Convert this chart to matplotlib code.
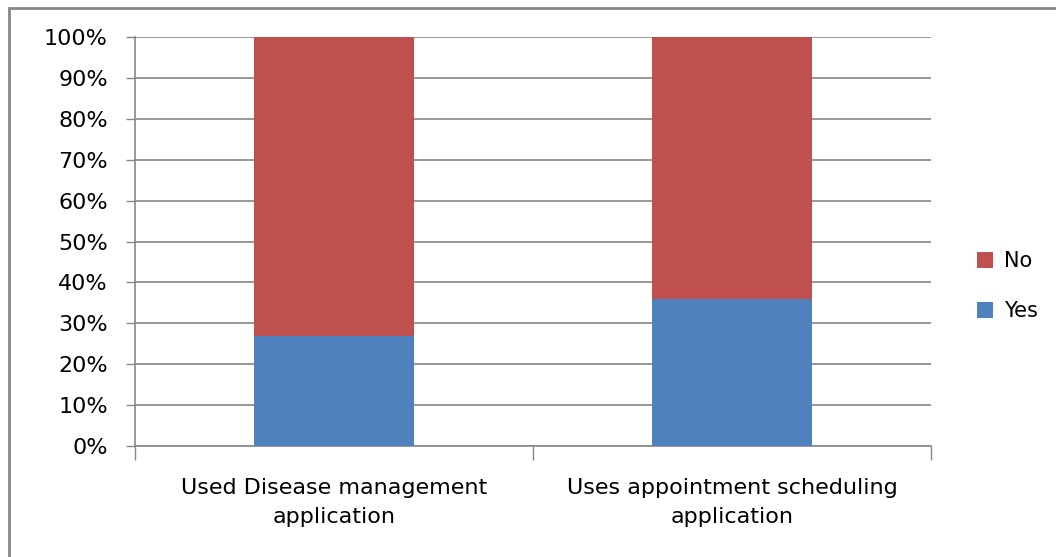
import matplotlib.pyplot as plt
import matplotlib.patches as patches
import numpy as np

categories = ['Used Disease management\napplication', 'Uses appointment scheduling\napplication']
yes_vals = [27, 36]
no_vals = [73, 64]

fig = plt.figure(figsize=(10.56, 5.57), dpi=100, facecolor='white')
ax = fig.add_axes([135/1056, 1 - 446/557, (931-135)/1056, (446-37)/557])

x = np.arange(len(categories))
ax.bar(x, yes_vals, width=0.4, color='#4F81BD', label='Yes', zorder=3)
ax.bar(x, no_vals, width=0.4, bottom=yes_vals, color='#C0504D', label='No', zorder=3)

ax.set_xlim(-0.5, 1.5)
ax.set_ylim(0, 100)
ax.set_yticks(np.arange(0, 101, 10))
ax.set_yticklabels(['%d%%' % v for v in range(0, 101, 10)], fontsize=16, family='DejaVu Sans')
ax.yaxis.grid(True, color='#868686', linewidth=1.2, zorder=0)

# category labels sit between the boundary ticks
ax.set_xticks([-0.5, 0.5, 1.5])
ax.set_xticklabels([])
ax.tick_params(axis='x', length=10, color='#868686', width=1)
ax.tick_params(axis='y', length=6.5, color='#868686', width=1, pad=13)
for xi, lab in zip(x, categories):
    ax.text(xi, -7.9, lab, ha='center', va='top', fontsize=16, linespacing=1.55,
            family='DejaVu Sans', transform=ax.transData)

for side in ['top', 'right']:
    ax.spines[side].set_visible(False)
for side in ['left', 'bottom']:
    ax.spines[side].set_color('#868686')
    ax.spines[side].set_linewidth(1.2)

handles, labels = ax.get_legend_handles_labels()
leg = fig.legend(handles[::-1], labels[::-1], loc='center left', bbox_to_anchor=(958/1056, 1 - 286/557),
                 frameon=False, fontsize=15, handlelength=0.8, handleheight=0.8,
                 labelspacing=1.45, handletextpad=0.5)

border = patches.Rectangle((9/1056, -0.05), 1.1, 1 - 8/557 + 0.05, transform=fig.transFigure,
                           fill=False, edgecolor='#868686', linewidth=2)
fig.add_artist(border)

plt.savefig('out.png', dpi=100)
